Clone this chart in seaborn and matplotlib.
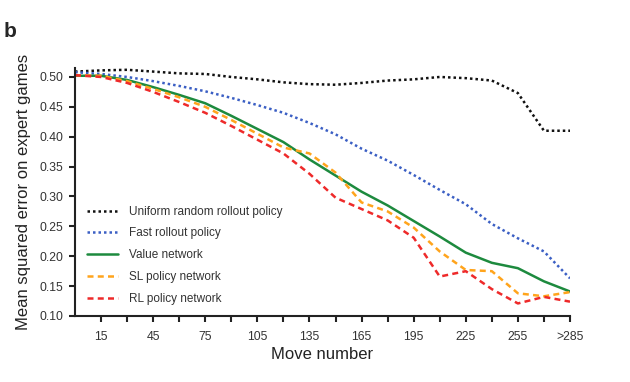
import numpy as np
import pandas as pd
import matplotlib
matplotlib.use("Agg")
import matplotlib.pyplot as plt
import seaborn as sns

# move bins (last one is ">285")
moves = [0, 15, 30, 45, 60, 75, 90, 105, 120, 135, 150, 165, 180, 195, 210, 225, 240, 255, 270, 285]
tick_moves = [15, 45, 75, 105, 135, 165, 195, 225, 255, 285]
tick_labels = ["15", "45", "75", "105", "135", "165", "195", "225", "255", ">285"]

uniform_random = [0.509, 0.511, 0.512, 0.509, 0.506, 0.505, 0.500, 0.496, 0.491, 0.488,
                  0.487, 0.490, 0.494, 0.496, 0.500, 0.498, 0.494, 0.473, 0.410, 0.410]
fast_rollout = [0.508, 0.505, 0.500, 0.493, 0.485, 0.476, 0.465, 0.453, 0.440, 0.423,
                0.404, 0.380, 0.360, 0.336, 0.311, 0.287, 0.254, 0.230, 0.208, 0.163]
value_net = [0.502, 0.502, 0.495, 0.483, 0.470, 0.456, 0.435, 0.413, 0.391, 0.362,
             0.335, 0.308, 0.285, 0.259, 0.233, 0.206, 0.189, 0.180, 0.158, 0.141]
sl_policy = [0.503, 0.502, 0.493, 0.480, 0.466, 0.450, 0.428, 0.405, 0.382, 0.372,
             0.340, 0.290, 0.275, 0.248, 0.208, 0.177, 0.175, 0.138, 0.133, 0.140]
rl_policy = [0.503, 0.500, 0.490, 0.475, 0.458, 0.440, 0.418, 0.395, 0.372, 0.338,
             0.298, 0.279, 0.260, 0.231, 0.166, 0.175, 0.145, 0.121, 0.132, 0.124]

series = {
    "Uniform random rollout policy": uniform_random,
    "Fast rollout policy": fast_rollout,
    "Value network": value_net,
    "SL policy network": sl_policy,
    "RL policy network": rl_policy,
}
colors = ["#111111", "#3b5fc4", "#1d8a3e", "#ffa41c", "#ee2a2a"]
styles = [(0, (1, 1.2)), (0, (1, 1.2)), "-", (0, (2.4, 1.7)), (0, (2.4, 1.7))]

sns.set_style("ticks")
plt.rcParams["font.family"] = ["Liberation Sans", "DejaVu Sans"]

fig = plt.figure(figsize=(6.3, 3.82), dpi=100)
ax = fig.add_axes([75 / 630, 1 - 316 / 382, 495 / 630, 248 / 382])

for (name, vals), c, ls in zip(series.items(), colors, styles):
    sns.lineplot(x=moves, y=vals, ax=ax, color=c, linestyle=ls, lw=1.8, label=name)

ax.set_xlim(0, 285)
ax.set_ylim(0.10, 0.515)
ax.set_xticks(tick_moves)
ax.set_xticks([m for m in range(15, 286, 15) if m not in tick_moves], minor=True)
ax.set_xticklabels(tick_labels)
ax.set_yticks(np.arange(0.10, 0.501, 0.05))
ax.yaxis.set_major_formatter(matplotlib.ticker.FormatStrFormatter("%.2f"))

for s in ["top", "right"]:
    ax.spines[s].set_visible(False)
for s in ["left", "bottom"]:
    ax.spines[s].set_linewidth(1.5)
    ax.spines[s].set_color("#222222")
ax.tick_params(axis="both", which="both", length=4.5, width=1.5, color="#222222",
               labelsize=8.8, labelcolor="#333333", pad=4)
ax.tick_params(axis="x", pad=6)

ax.set_xlabel("Move number", fontsize=12, color="#222222")
ax.set_ylabel("Mean squared error on expert games", fontsize=12, color="#222222")
ax.xaxis.set_label_coords(0.5, -0.125)
ax.yaxis.set_label_coords(-0.089, 0.5)

leg = ax.legend(loc="upper left", bbox_to_anchor=(0.024, 0.445), frameon=False,
                fontsize=8.5, handlelength=2.6, handletextpad=1.0, labelspacing=0.83,
                borderpad=0, borderaxespad=0)
for t in leg.get_texts():
    t.set_color("#333333")

fig.text(0.005, 1 - 37 / 382, "b", fontsize=15, fontweight="bold", va="baseline")

fig.savefig("out.png", dpi=100)
